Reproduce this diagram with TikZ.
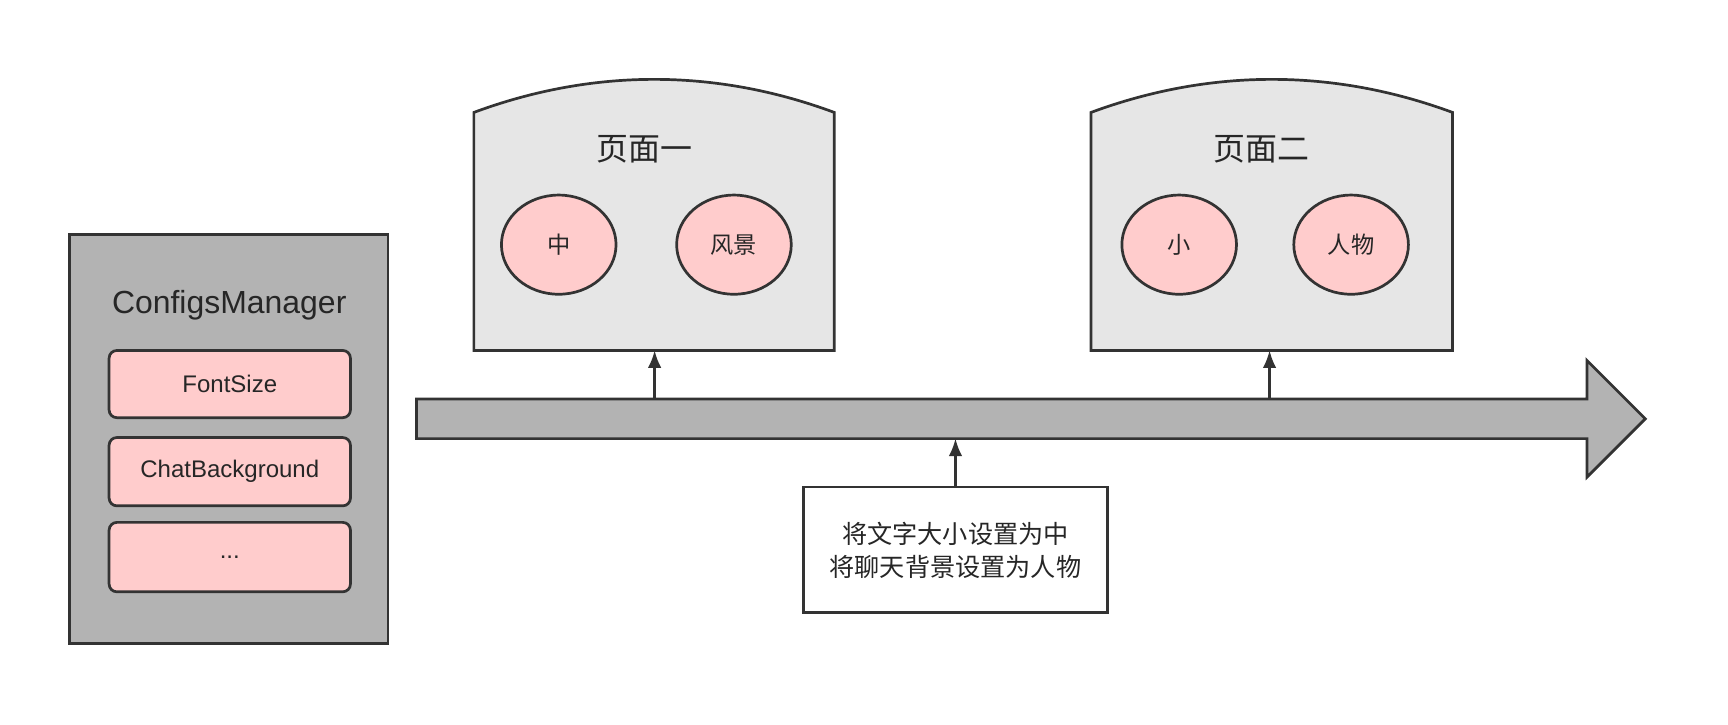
\documentclass[tikz,border=0pt]{standalone}
\usepackage{fontspec}
\usetikzlibrary{arrows.meta}
\setmainfont{Liberation Sans}
\newfontfamily\cjk{Noto Sans CJK SC}
\begin{document}
\begin{tikzpicture}[x=0.02cm,y=-0.02cm,
  line width=1.4pt,
  bd/.style={draw=black!80},
  arr/.style={-{Latex[length=9pt,width=7pt]},draw=black!80,line width=1.2pt},
  every node/.style={text=black!85},
]
\useasboundingbox (0,0) rectangle (1568,657);
\definecolor{pk}{RGB}{255,204,204}
\definecolor{gd}{RGB}{179,179,179}
\definecolor{gl}{RGB}{230,230,230}
% ConfigsManager
\draw[bd,fill=gd] (63,213) rectangle (352,584);
\node (cmt) at (208,277) {\fontsize{16.5pt}{19pt}\selectfont ConfigsManager};
\draw[bd,fill=pk,rounded corners=4pt] (99,318) rectangle (318,379);
\node (fs) at (208.5,348.5) {\fontsize{12.4pt}{15pt}\selectfont FontSize};
\draw[bd,fill=pk,rounded corners=4pt] (99,397) rectangle (318,459);
\node (cb) at (208.5,428) {\fontsize{12.4pt}{15pt}\selectfont ChatBackground};
\draw[bd,fill=pk,rounded corners=4pt] (99,474) rectangle (318,537);
\node (dots) at (208.5,505.5) {\fontsize{12.4pt}{15pt}\selectfont ...};
% big arrow
\draw[bd,fill=gd] (378,362) -- (1440,362) -- (1440,327) -- (1493,380) -- (1440,433) -- (1440,398) -- (378,398) -- cycle;
\coordinate (a1) at (594,362);
\coordinate (a2) at (1152,362);
\coordinate (a3) at (867,398);
% pages
\foreach \xa/\xb in {430/757,990/1318}{
  \draw[bd,fill=gl] (\xa,318) -- (\xa,102) .. controls ({\xa+0.33*(\xb-\xa)},62) and ({\xb-0.33*(\xb-\xa)},62) .. (\xb,102) -- (\xb,318) -- cycle;
}
\coordinate (p1) at (594,318);
\coordinate (p2) at (1152,318);
\node (t1) at (585,135) {\cjk\fontsize{16.5pt}{19pt}\selectfont 页面一};
\node (t2) at (1145,135) {\cjk\fontsize{16.5pt}{19pt}\selectfont 页面二};
\draw[bd,fill=pk] (507,222) ellipse [x radius=52,y radius=45];
\node (e1) at (507,222) {\cjk\fontsize{12pt}{14pt}\selectfont 中};
\draw[bd,fill=pk] (666,222) ellipse [x radius=52,y radius=45];
\node (e2) at (666,222) {\cjk\fontsize{12pt}{14pt}\selectfont 风景};
\draw[bd,fill=pk] (1070,222) ellipse [x radius=52,y radius=45];
\node (e3) at (1070,222) {\cjk\fontsize{12pt}{14pt}\selectfont 小};
\draw[bd,fill=pk] (1226,222) ellipse [x radius=52,y radius=45];
\node (e4) at (1226,222) {\cjk\fontsize{12pt}{14pt}\selectfont 人物};
% text box
\node[bd,fill=white,minimum width=5.52cm,minimum height=2.28cm,align=center,inner sep=0pt,
  font={\cjk\fontsize{13pt}{17pt}\selectfont}] (tb) at (867,499)
  {将文字大小设置为中\\将聊天背景设置为人物};
\draw[arr] (a1) -- (p1);
\draw[arr] (a2) -- (p2);
\draw[arr] (tb.north) -- (a3);
\end{tikzpicture}
\end{document}
